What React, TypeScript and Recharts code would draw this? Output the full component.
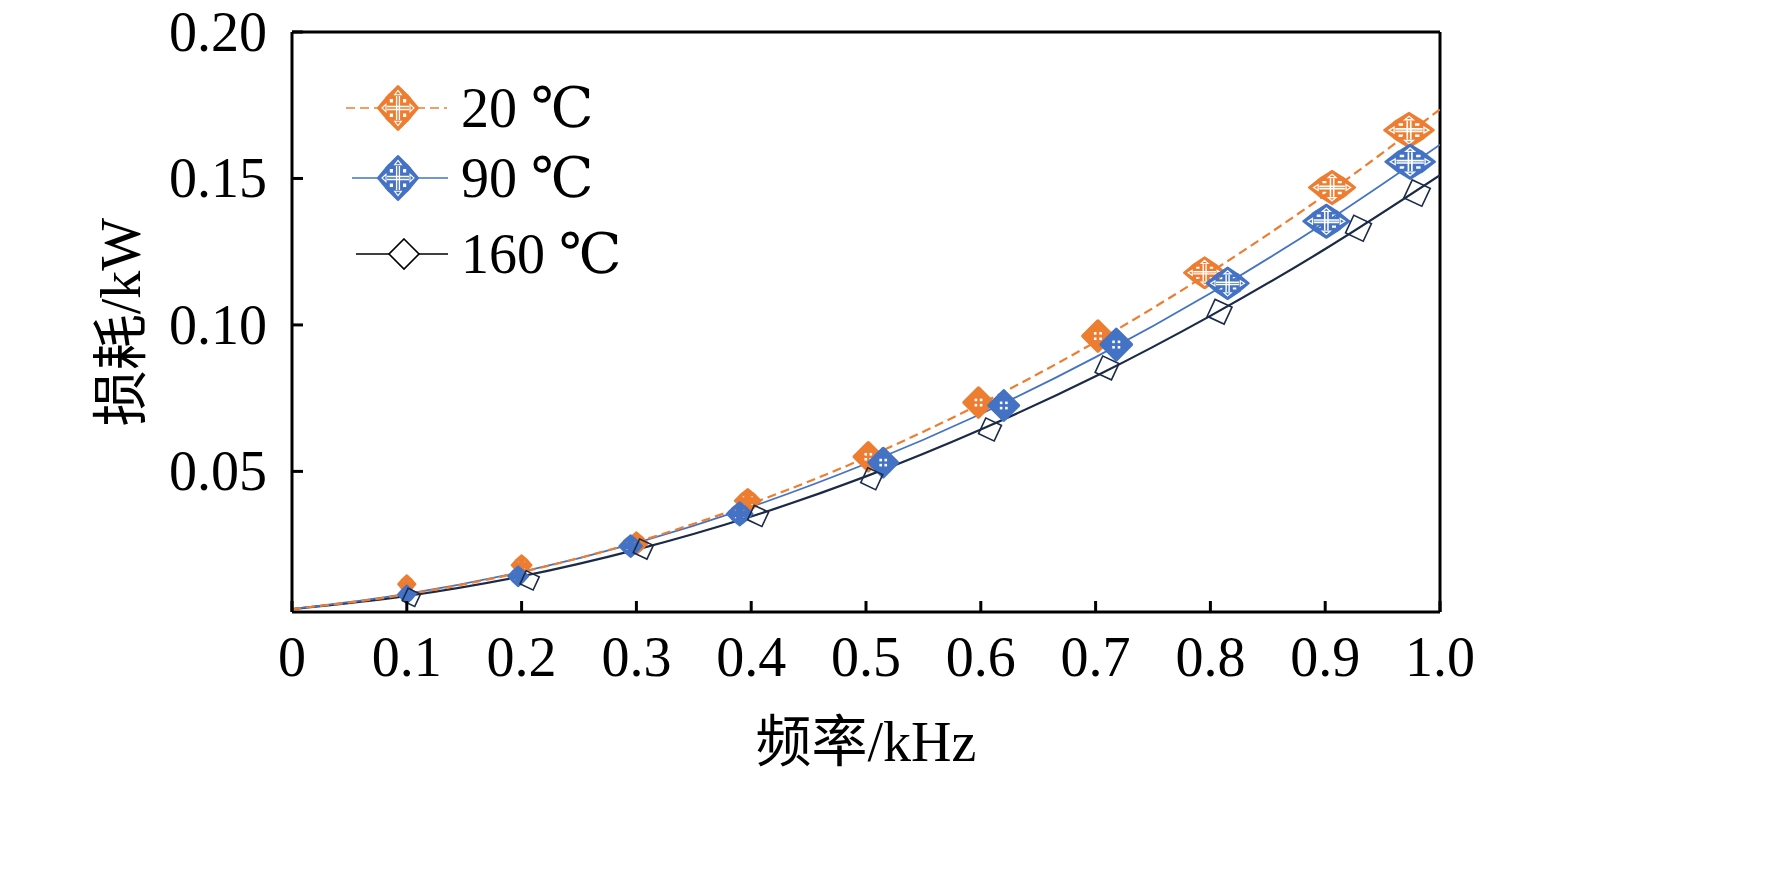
import React from 'react';
import { ComposedChart, Line, Scatter, XAxis, YAxis, ReferenceLine, Label } from 'recharts';

// Trend-line values
const fitFreq = [0, 0.1, 0.2, 0.3, 0.4, 0.5, 0.6, 0.7, 0.8, 0.9, 1.0];
const fit20 = [0.003, 0.008, 0.0156, 0.0259, 0.039, 0.0547, 0.0731, 0.0942, 0.118, 0.1444, 0.1736];
const fit90 = [0.003, 0.0082, 0.0157, 0.0256, 0.0379, 0.0526, 0.0696, 0.089, 0.1108, 0.135, 0.1615];
const fit160 = [0.003, 0.0075, 0.0142, 0.0233, 0.0346, 0.0483, 0.0643, 0.0825, 0.1031, 0.1259, 0.1511];

// Measured points
const freq20 = [0.1, 0.2, 0.3, 0.397, 0.502, 0.598, 0.702, 0.795, 0.906, 0.973];
const loss20 = [0.0115, 0.018, 0.0255, 0.04, 0.055, 0.0735, 0.0962, 0.1178, 0.1469, 0.1665];
const freq90 = [0.1, 0.197, 0.295, 0.39, 0.515, 0.62, 0.718, 0.815, 0.901, 0.974];
const loss90 = [0.008, 0.0142, 0.0245, 0.0355, 0.053, 0.0725, 0.0933, 0.1142, 0.1354, 0.1557];
const freq160 = [0.104, 0.207, 0.306, 0.406, 0.505, 0.608, 0.71, 0.808, 0.929, 0.98];
const loss160 = [0.007, 0.0128, 0.0235, 0.0348, 0.0475, 0.0643, 0.0853, 0.1045, 0.133, 0.145];

const xTicks = [0, 0.1, 0.2, 0.3, 0.4, 0.5, 0.6, 0.7, 0.8, 0.9, 1.0];
const yTicks = [0.05, 0.1, 0.15, 0.2];
const seriesNames = ['20 ℃', '90 ℃', '160 ℃'];

const ORANGE = '#ED7D31';
const BLUE = '#4472C4';
const NAVY = '#1B2A47';
const FONT = '"Liberation Serif", "Times New Roman", "DejaVu Serif", "Noto Sans CJK SC", serif';
const CJK_FONT = '"Liberation Serif", "DejaVu Serif", "Noto Sans CJK SC", serif';

const toRows = (xs: number[], ys: number[]) => xs.map((x, i) => ({ x, y: ys[i] }));
const fitRows20 = toRows(fitFreq, fit20);
const fitRows90 = toRows(fitFreq, fit90);
const fitRows160 = toRows(fitFreq, fit160);
const pts20 = toRows(freq20, loss20);
const pts90 = toRows(freq90, loss90);
const pts160 = toRows(freq160, loss160);

const ARROW: number[][] = [
  [0, -1], [0.6, -0.46], [0.2, -0.46], [0.2, -0.2], [0.46, -0.2], [0.46, -0.6],
  [1, 0], [0.46, 0.6], [0.46, 0.2], [0.2, 0.2], [0.2, 0.46], [0.6, 0.46],
  [0, 1], [-0.6, 0.46], [-0.2, 0.46], [-0.2, 0.2], [-0.46, 0.2], [-0.46, 0.6],
  [-1, 0], [-0.46, -0.6], [-0.46, -0.2], [-0.2, -0.2], [-0.2, -0.46], [-0.6, -0.46],
];

function ArrowMarker({ cx, cy, w, h, color }: { cx: number; cy: number; w: number; h: number; color: string }) {
  const a = w / 2;
  const b = h / 2;
  const pts = ARROW.map(([px, py]) => `${cx + px * a},${cy + py * b}`).join(' ');
  const detail = w >= 26;
  const lw = Math.max(1, w / 30);
  const lines =
    `M${cx - 0.07 * a},${cy - 0.55 * b}V${cy + 0.55 * b}` +
    `M${cx + 0.07 * a},${cy - 0.55 * b}V${cy + 0.55 * b}` +
    `M${cx - 0.55 * a},${cy - 0.07 * b}H${cx + 0.55 * a}` +
    `M${cx - 0.55 * a},${cy + 0.07 * b}H${cx + 0.55 * a}`;
  const tri =
    `M${cx},${cy - 0.8 * b}L${cx + 0.17 * a},${cy - 0.6 * b}L${cx - 0.17 * a},${cy - 0.6 * b}Z` +
    `M${cx},${cy + 0.8 * b}L${cx + 0.17 * a},${cy + 0.6 * b}L${cx - 0.17 * a},${cy + 0.6 * b}Z` +
    `M${cx + 0.8 * a},${cy}L${cx + 0.6 * a},${cy - 0.17 * b}L${cx + 0.6 * a},${cy + 0.17 * b}Z` +
    `M${cx - 0.8 * a},${cy}L${cx - 0.6 * a},${cy - 0.17 * b}L${cx - 0.6 * a},${cy + 0.17 * b}Z`;
  return (
    <g>
      <polygon points={pts} fill={color} stroke={color} strokeWidth={2} strokeLinejoin="round" />
      {detail && <path d={lines} stroke="#fff" strokeWidth={lw} fill="none" />}
      {detail && <path d={tri} stroke="#fff" strokeWidth={lw * 0.8} fill="none" />}
    </g>
  );
}

function DiceMarker({ cx, cy, w, h, color }: { cx: number; cy: number; w: number; h: number; color: string }) {
  const a = w / 2;
  const b = h / 2;
  const d = `M${cx},${cy - b}L${cx + a},${cy}L${cx},${cy + b}L${cx - a},${cy}Z`;
  const dots = [[-1, -1], [1, -1], [-1, 1], [1, 1]];
  return (
    <g>
      <path d={d} fill={color} stroke={color} strokeWidth={3.5} strokeLinejoin="round" />
      {dots.map(([dx, dy], i) => (
        <rect key={i} x={cx + dx * 0.18 * a - 1.3} y={cy + dy * 0.18 * b - 1.3} width={2.6} height={2.6} fill="#fff" />
      ))}
    </g>
  );
}

function ColorMarker(props: any, color: string) {
  const { cx, cy, payload } = props;
  if (cx == null || cy == null) return <g />;
  const f = payload.x;
  const w = 15 + 22 * f + 14 * f * f;
  const h = 16 + 19 * f;
  if (f > 0.45 && f < 0.75) {
    const s = 23 + 10 * f;
    return <DiceMarker cx={cx} cy={cy} w={s} h={s} color={color} />;
  }
  return <ArrowMarker cx={cx} cy={cy} w={w} h={h} color={color} />;
}

function SquareMarker(props: any) {
  const { cx, cy, payload } = props;
  if (cx == null || cy == null) return <g />;
  const s = 13 + 7 * payload.x;
  return (
    <rect
      x={cx - s / 2}
      y={cy - s / 2}
      width={s}
      height={s}
      fill="none"
      stroke={NAVY}
      strokeWidth={1.6}
      transform={`rotate(25 ${cx} ${cy})`}
    />
  );
}

function YTick(props: any) {
  const { x, y, payload } = props;
  return (
    <g>
      <line x1={x} y1={y} x2={x + 11} y2={y} stroke="#000" strokeWidth={3} />
      <text x={x - 25} y={y + 19} textAnchor="end" fontSize={56} fontFamily={FONT} fill="#000">
        {Number(payload.value).toFixed(2)}
      </text>
    </g>
  );
}

function XTick(props: any) {
  const { x, y, payload } = props;
  const v = Number(payload.value);
  const label = v === 0 ? '0' : v.toFixed(1);
  return (
    <g>
      <line x1={x} y1={y} x2={x} y2={y - 11} stroke="#000" strokeWidth={3} />
      <text x={x} y={y + 64} textAnchor="middle" fontSize={56} fontFamily={FONT} fill="#000">
        {label}
      </text>
    </g>
  );
}

function LegendOverlay() {
  const rows = [
    { y: 108, color: ORANGE, dash: '9 5', x1: 346, x2: 447, mx: 398, kind: 'c' },
    { y: 178, color: BLUE, dash: undefined, x1: 352, x2: 448, mx: 398, kind: 'c' },
    { y: 254, color: '#000', dash: undefined, x1: 356, x2: 448, mx: 404, kind: 's' },
  ];
  return (
    <svg width={1772} height={872} style={{ position: 'absolute', left: 0, top: 0, pointerEvents: 'none' }}>
      {rows.map((r, i) => (
        <g key={i}>
          <line x1={r.x1} y1={r.y} x2={r.x2} y2={r.y} stroke={r.color} strokeWidth={1.6} strokeDasharray={r.dash} />
          {r.kind === 'c' ? (
            <ArrowMarker cx={r.mx} cy={r.y} w={40} h={44} color={r.color} />
          ) : (
            <path
              d={`M${r.mx},${r.y - 15}L${r.mx + 15},${r.y}L${r.mx},${r.y + 15}L${r.mx - 15},${r.y}Z`}
              fill="#fff"
              stroke="#000"
              strokeWidth={1.6}
            />
          )}
          <text x={461} y={r.y + 19} fontSize={56} fontFamily={CJK_FONT} fill="#000">
            {seriesNames[i]}
          </text>
        </g>
      ))}
    </svg>
  );
}

export default function App() {
  return (
    <div style={{ position: 'absolute', left: 0, top: 0, width: 1772, height: 872, background: '#fff' }}>
      <ComposedChart width={1772} height={872} margin={{ top: 32, right: 332, bottom: 100, left: 92 }}>
        <XAxis
          type="number"
          dataKey="x"
          domain={[0, 1]}
          ticks={xTicks}
          allowDataOverflow
          axisLine={{ stroke: '#000', strokeWidth: 3 }}
          tickLine={false}
          tickSize={0}
          tickMargin={0}
          tick={<XTick />}
          height={160}
          interval={0}
        >
          <Label
            content={() => (
              <text x={866} y={761} textAnchor="middle" fontSize={56} fontFamily={CJK_FONT} fill="#000">
                频率/kHz
              </text>
            )}
          />
        </XAxis>
        <YAxis
          type="number"
          dataKey="y"
          domain={[0.002, 0.2]}
          ticks={yTicks}
          allowDataOverflow
          axisLine={{ stroke: '#000', strokeWidth: 3 }}
          tickLine={false}
          tickSize={0}
          tickMargin={0}
          tick={<YTick />}
          width={200}
          interval={0}
        >
          <Label
            content={() => (
              <text
                transform="translate(121,322) rotate(-90)"
                textAnchor="middle"
                dominantBaseline="central"
                fontSize={56}
                fontFamily={CJK_FONT}
                fill="#000"
              >
                损耗/kW
              </text>
            )}
          />
        </YAxis>
        <ReferenceLine y={0.2} stroke="#000" strokeWidth={3} />
        <ReferenceLine x={1} stroke="#000" strokeWidth={3} />
        <Line data={fitRows160} dataKey="y" type="monotone" stroke={NAVY} strokeWidth={2.2} dot={false} isAnimationActive={false} />
        <Line data={fitRows90} dataKey="y" type="monotone" stroke={BLUE} strokeWidth={1.8} dot={false} isAnimationActive={false} />
        <Line data={fitRows20} dataKey="y" type="monotone" stroke={ORANGE} strokeWidth={2.2} strokeDasharray="9 5" dot={false} isAnimationActive={false} />
        <Scatter data={pts20} dataKey="y" shape={(p: any) => ColorMarker(p, ORANGE)} isAnimationActive={false} />
        <Scatter data={pts90} dataKey="y" shape={(p: any) => ColorMarker(p, BLUE)} isAnimationActive={false} />
        <Scatter data={pts160} dataKey="y" shape={(p: any) => SquareMarker(p)} isAnimationActive={false} />
      </ComposedChart>
      <LegendOverlay />
    </div>
  );
}
